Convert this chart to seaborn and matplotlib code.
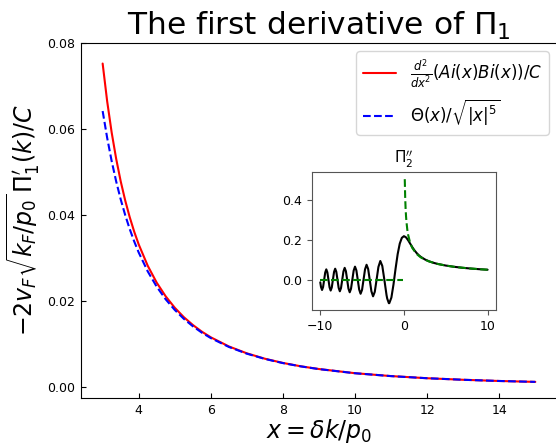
import matplotlib
matplotlib.use("Agg")
import matplotlib.pyplot as plt
import seaborn as sns

# main panel: x = delta k / p0
x_main = [3, 3.125, 3.25, 3.375, 3.5, 3.625, 3.75, 3.875, 4, 4.25, 4.5, 4.75, 5, 5.25, 5.5, 5.75,
          6, 6.5, 7, 7.5, 8, 8.5, 9, 10, 11, 12, 13, 14, 15]
airy_second_deriv = [0.07520, 0.06644, 0.05917, 0.05305, 0.04784, 0.04337, 0.03949, 0.03610,
                     0.03313, 0.02817, 0.02422, 0.02103, 0.01840, 0.01622, 0.01440, 0.01284,
                     0.01152, 0.00940, 0.00779, 0.00654, 0.00556, 0.00477, 0.00414, 0.00317,
                     0.00250, 0.00200, 0.00164, 0.00136, 0.00115]
power_law = [0.06415, 0.05793, 0.05252, 0.04779, 0.04363, 0.03997, 0.03672, 0.03383,
             0.03125, 0.02686, 0.02328, 0.02034, 0.01789, 0.01583, 0.01410, 0.01261,
             0.01134, 0.00928, 0.00771, 0.00649, 0.00552, 0.00475, 0.00412, 0.00316,
             0.00249, 0.00200, 0.00164, 0.00136, 0.00115]

# inset: Pi_2''
x_inset = [-10.0, -9.9151, -9.7900, -9.6642, -9.5375, -9.4099, -9.2815, -9.1522, -9.0220,
           -8.8909, -8.7587, -8.6255, -8.4913, -8.3561, -8.2198, -8.0823, -7.9436, -7.8038,
           -7.6626, -7.5202, -7.3763, -7.2314, -7.0846, -6.9364, -6.7865, -6.6350, -6.4818,
           -6.3267, -6.1696, -6.0107, -5.8496, -5.6862, -5.5205, -5.3523, -5.1813, -5.0075,
           -4.8307, -4.6505, -4.4669, -4.2794, -4.0878, -3.8917, -3.6909, -3.4842, -3.2713,
           -3.0515, -2.8238, -2.5870, -2.3393, -2.0794, -2.0, -1.8029, -1.75, -1.5, -1.25,
           -1.0, -0.75, -0.5, -0.25, 0.0, 0.25, 0.5, 0.75, 1.0, 1.25, 1.5, 1.75, 2.0, 2.5,
           3.0, 3.5, 4.0, 5.0, 6.0, 7.0, 8.0, 9.0, 10.0]
ai_bi = [-0.01267, -0.03573, -0.05086, -0.03619, 0.0, 0.03668, 0.05223, 0.03719, 0.0,
         -0.03773, -0.05376, -0.03831, 0.0, 0.03892, 0.05550, 0.03957, 0.0, -0.04027,
         -0.05747, -0.04102, 0.0, 0.04183, 0.05977, 0.04271, 0.0, -0.04367, -0.06248,
         -0.04471, 0.0, 0.04587, 0.06575, 0.04715, 0.0, -0.04859, -0.06984, -0.05023,
         0.0, 0.05210, 0.07517, 0.05429, 0.0, -0.05689, -0.08259, -0.06007, 0.0,
         0.06407, 0.09405, 0.06934, 0.0, -0.07669, -0.09376, -0.11700, -0.11680, -0.08904, -0.02385,
         0.05570, 0.12830, 0.18095, 0.20995, 0.21830, 0.21219, 0.19793, 0.18057, 0.16335,
         0.14791, 0.13481, 0.12400, 0.11517, 0.10196, 0.09252, 0.08538, 0.07977, 0.07127,
         0.06502, 0.06018, 0.05629, 0.05305, 0.05033]
x_step_neg = [-10.0, -0.1]
step_neg = [0.0, 0.0]
x_step_pos = [0.1, 0.15, 0.2, 0.25, 0.3, 0.4, 0.5, 0.75, 1, 1.5, 2, 2.5, 3, 4, 5, 6, 7, 8, 9, 10]
step_pos = [0.5033, 0.4109, 0.3559, 0.3183, 0.2906, 0.2516, 0.2251, 0.1838, 0.1592, 0.1299,
            0.1125, 0.1007, 0.0919, 0.0796, 0.0712, 0.0650, 0.0602, 0.0563, 0.0531, 0.0503]

sns.set_theme(style="ticks", context="notebook")
plt.rcParams["font.family"] = ["DejaVu Sans"]
plt.rcParams["mathtext.fontset"] = "dejavusans"
for key in ["text.color", "axes.labelcolor", "xtick.color", "ytick.color", "axes.edgecolor"]:
    plt.rcParams[key] = "black"

fig = plt.figure(figsize=(5.56, 4.45), dpi=100)
ax = fig.add_axes([0.1457, 0.1056, 0.856, 0.798])

sns.lineplot(x=x_main, y=airy_second_deriv, ax=ax, color="red", linewidth=1.5,
             errorbar=None, label=r"$\frac{d^2}{dx^2}(Ai(x)Bi(x))/C$")
sns.lineplot(x=x_main, y=power_law, ax=ax, color="blue", linewidth=1.5, linestyle="--",
             errorbar=None, label=r"$\Theta(x)/\sqrt{|x|^5}$")

ax.set_xlim(2.4, 15.6)
ax.set_ylim(-0.0026, 0.0799)
ax.set_xticks([4, 6, 8, 10, 12, 14])
ax.set_yticks([0.0, 0.02, 0.04, 0.06, 0.08])
ax.tick_params(direction="in", length=3.5, width=0.8, labelsize=9, pad=4)
for s in ax.spines.values():
    s.set_linewidth(0.8)
ax.set_title(r"The first derivative of $\Pi_1$", fontsize=22.5)
ax.set_xlabel(r"$x=\delta k/p_0$", fontsize=17, labelpad=0)
ax.set_ylabel(r"$-2v_F\sqrt{k_F/p_0}\,\Pi_1^{\prime}(k)/C$", fontsize=17, labelpad=4)
ax.legend(loc="upper right", fontsize=12, labelspacing=0.4)

# inset
ins = fig.add_axes([0.561, 0.3034, 0.331, 0.310])
sns.lineplot(x=x_inset, y=ai_bi, ax=ins, color="black", linewidth=1.5, errorbar=None)
sns.lineplot(x=x_step_neg, y=step_neg, ax=ins, color="green", linewidth=1.5,
             linestyle="--", errorbar=None)
sns.lineplot(x=x_step_pos, y=step_pos, ax=ins, color="green", linewidth=1.5,
             linestyle="--", errorbar=None)
ins.set_xlim(-11, 11)
ins.set_ylim(-0.151, 0.539)
ins.set_xticks([-10, 0, 10])
ins.set_yticks([0.0, 0.2, 0.4])
ins.tick_params(direction="out", length=3.5, width=0.8, labelsize=9, color="#555555")
for s in ins.spines.values():
    s.set_color("#555555")
    s.set_linewidth(0.8)
ins.set_title(r"$\Pi_2^{\prime\prime}$", fontsize=11)

fig.savefig("out.png", dpi=100)
